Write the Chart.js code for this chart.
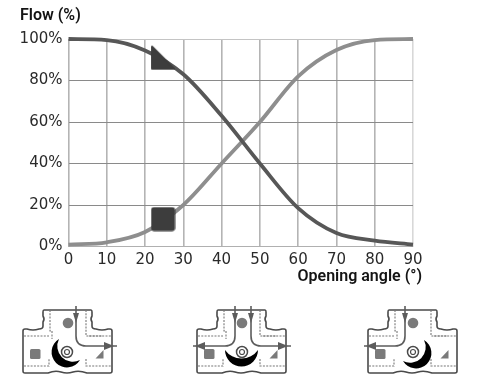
<!DOCTYPE html>
<html>
<head>
<meta charset="utf-8">
<script src="https://cdn.jsdelivr.net/npm/chart.js@4"></script>
<style>
html,body{margin:0;padding:0;background:#fff}
#wrap{position:relative;width:480px;height:385px;overflow:hidden;filter:blur(0.35px)}
canvas{position:absolute;left:0;top:0}
svg{position:absolute;left:0;top:0}
</style>
</head>
<body>
<div id="wrap">
<canvas id="c" width="480" height="385"></canvas>
<svg width="480" height="385" viewBox="0 0 480 385">
<defs>
<g id="body">
<path d="M21 1H68Q69 1 69 3V7Q67 10 69 13V17Q69 20 73 20Q79 22 85 20H87Q89 20 89 22V62Q89 64 87 64H64Q56 61 50 63Q44 65 38 63Q32 61 25 64H2Q0 64 0 62V22Q0 20 2 20H4Q10 22 16 20Q20 20 20 17V13Q22 10 20 7V3Q20 1 21 1Z" fill="#fff" stroke="#4a4a4a" stroke-width="1.6"/>
<g fill="none" stroke="#777" stroke-width="1.1" stroke-dasharray="2 1.3">
<path d="M27 1V22H29V30"/><path d="M63 1V27H80"/>
<path d="M1 27H26"/><path d="M66 27H88"/>
<path d="M1 57H26V50"/><path d="M63 50V57H88"/>
</g>
<circle cx="45" cy="14" r="5.300" fill="#7a7a7a"/>
<rect x="7" y="40" width="10.500" height="10" rx="1.500" fill="#7a7a7a"/>
<path d="M72.500 49.500L80.500 41V49.500Z" fill="#7a7a7a"/>
</g>
<g id="gear">
<circle cx="0" cy="0" r="5.500" fill="#fff" stroke="#4a4a4a" stroke-width="1.500"/>
<circle cx="0" cy="0" r="2.500" fill="#fff" stroke="#4a4a4a" stroke-width="1.200"/>
</g>
<g id="down"><path d="M-3 -5H3L0 5Z" fill="#5c5c5c"/></g>
</defs>

<g transform="translate(23,309)">
<use href="#body"/>
<path d="M53 -3V27Q53 37 63 37H94" fill="none" stroke="#5c5c5c" stroke-width="1.600"/>
<use href="#down" x="53" y="9"/>
<path d="M81 33L91 37L81 41Z" fill="#5c5c5c"/>
<path d="M36 30A15.300 15.300 0 1 0 57 51A15.600 15.600 0 0 1 36 30Z" fill="#000"/>
<use href="#gear" x="44" y="43"/>
</g>

<g transform="translate(197,309)">
<use href="#body"/>
<path d="M38 -3V27Q38 37 28 37H-4" fill="none" stroke="#5c5c5c" stroke-width="1.600"/>
<path d="M54 -3V27Q54 37 64 37H94" fill="none" stroke="#5c5c5c" stroke-width="1.600"/>
<use href="#down" x="38" y="9"/>
<use href="#down" x="54" y="9"/>
<path d="M8 33L-2 37L8 41Z" fill="#5c5c5c"/>
<path d="M81 33L91 37L81 41Z" fill="#5c5c5c"/>
<path d="M28 41A16.500 16.500 0 0 0 61 41A20.200 20.200 0 0 1 28 41Z" fill="#000"/>
<use href="#gear" x="45" y="43"/>
</g>

<g transform="translate(368,309)">
<use href="#body"/>
<path d="M37 -3V27Q37 37 27 37H-4" fill="none" stroke="#5c5c5c" stroke-width="1.600"/>
<use href="#down" x="37" y="9"/>
<path d="M8 33L-2 37L8 41Z" fill="#5c5c5c"/>
<path d="M56 31A15.300 15.300 0 1 1 35 52A15.600 15.600 0 0 0 56 31Z" fill="#000"/>
<use href="#gear" x="45" y="43"/>
</g>
</svg>
</div>
<script>
const angles = [0, 10, 20, 30, 40, 50, 60, 70, 80, 90];
const closingFlow = [100, 99.5, 94.5, 83, 63, 40, 18.5, 6.5, 2.8, 0.9];
const openingFlow = [0.9, 2, 7, 20, 40, 60, 82, 94.7, 99.5, 100];
const markerAngle = [24.7];
const closingMarker = [91];
const openingMarker = [13.2];
const yTicks = [0, 20, 40, 60, 80, 100];
const yAxisCaption = "Flow (%)";
const xAxisCaption = "Opening angle (°)";

const pairs = (xs, ys) => xs.map((x, i) => ({x: x, y: ys[i]}));

// Right-angled rounded marker
const tri = document.createElement('canvas');
tri.width = 26; tri.height = 26;
(function () {
  const g = tri.getContext('2d');
  g.fillStyle = '#3d3d3d'; g.strokeStyle = '#3d3d3d';
  g.lineWidth = 2; g.lineJoin = 'round';
  g.beginPath(); g.moveTo(2, 2); g.lineTo(24, 24); g.lineTo(2, 24); g.closePath();
  g.fill(); g.stroke();
})();
// Rounded square marker
const sq = document.createElement('canvas');
sq.width = 25; sq.height = 25;
(function () {
  const g = sq.getContext('2d');
  g.fillStyle = '#3d3d3d';
  g.beginPath(); g.roundRect(0.5, 0.5, 24, 24, 3); g.fill();
})();

const captions = {
  id: 'captions',
  afterDraw(chart) {
    const g = chart.ctx, a = chart.chartArea;
    g.save();
    g.fillStyle = '#141414';
    g.font = '600 16px Roboto';
    g.textBaseline = 'middle';
    g.textAlign = 'left';
    g.fillText(yAxisCaption, 20, a.top - 23);
    g.textAlign = 'right';
    g.fillText(xAxisCaption, a.right + 9, a.bottom + 30);
    g.restore();
  }
};

new Chart(document.getElementById('c'), {
  type: 'line',
  data: {
    datasets: [
      {data: pairs(angles, openingFlow), borderColor: '#8e8e8e', borderWidth: 3.8, pointRadius: 0, tension: 0.35, cubicInterpolationMode: 'monotone', clip: false, order: 3},
      {data: pairs(angles, closingFlow), borderColor: '#575757', borderWidth: 3.8, pointRadius: 0, tension: 0.35, cubicInterpolationMode: 'monotone', clip: false, order: 2},
      {data: pairs(markerAngle, closingMarker), showLine: false, pointStyle: tri, pointRadius: 13, order: 1},
      {data: pairs(markerAngle, openingMarker), showLine: false, pointStyle: sq, pointRadius: 12, order: 1}
    ]
  },
  options: {
    responsive: false,
    animation: false,
    devicePixelRatio: 1,
    layout: {padding: {left: 0, top: 39, right: 67, bottom: 100}},
    plugins: {legend: {display: false}, tooltip: {enabled: false}},
    scales: {
      x: {
        type: 'linear', min: 0, max: 90,
        afterFit(s) { s.height = 38.5; },
        afterBuildTicks(s) { s.ticks = angles.map(v => ({value: v})); },
        ticks: {color: '#2a2a2a', font: {family: 'DejaVu Sans', size: 15}, padding: 5, maxRotation: 0, autoSkip: false},
        grid: {
          color: c => c.tick && c.tick.value === 90 ? '#d8d8d8' : '#b4b4b4',
          lineWidth: 1.6, drawTicks: false
        },
        border: {display: false}
      },
      y: {
        min: 0, max: 100,
        afterFit(s) { s.width = 68.5; },
        afterBuildTicks(s) { s.ticks = yTicks.map(v => ({value: v})); },
        ticks: {color: '#2a2a2a', font: {family: 'DejaVu Sans', size: 15}, padding: 6, callback: v => v + '%'},
        grid: {
          color: c => c.tick && c.tick.value === 100 ? '#c4c4c4' : (c.tick && c.tick.value === 0 ? '#b0b0b0' : '#8a8a8a'),
          lineWidth: 1, drawTicks: false
        },
        border: {display: false}
      }
    }
  },
  plugins: [captions]
});
</script>
</body>
</html>
